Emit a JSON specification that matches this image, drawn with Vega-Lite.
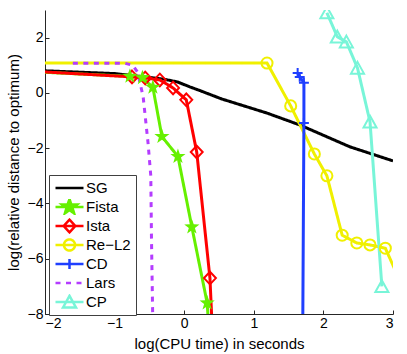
{
  "$schema": "https://vega.github.io/schema/vega-lite/v6.json",
  "autosize": "none",
  "width": 348,
  "height": 304,
  "padding": {"left": 45, "top": 10, "right": 14, "bottom": 40},
  "background": "white",
  "config": {
    "view": {"stroke": null},
    "axis": {
      "grid": false,
      "domainColor": "#262626",
      "tickColor": "#262626",
      "tickSize": -4,
      "labelFont": "Liberation Sans",
      "labelFontSize": 14,
      "labelColor": "black",
      "titleFont": "Liberation Sans",
      "titleFontSize": 15,
      "titleFontWeight": "normal",
      "titleColor": "black"
    }
  },
  "data": {
    "values": [
      {"s": "SG", "i": 0, "x": -2, "y": 0.8},
      {"s": "SG", "i": 1, "x": -1, "y": 0.7},
      {"s": "SG", "i": 2, "x": -0.5, "y": 0.56},
      {"s": "SG", "i": 3, "x": -0.3, "y": 0.5},
      {"s": "SG", "i": 4, "x": -0.1, "y": 0.4},
      {"s": "SG", "i": 5, "x": 0.08, "y": 0.22},
      {"s": "SG", "i": 6, "x": 0.23, "y": 0.08},
      {"s": "SG", "i": 7, "x": 0.54, "y": -0.22},
      {"s": "SG", "i": 8, "x": 1.19, "y": -0.73},
      {"s": "SG", "i": 9, "x": 1.66, "y": -1.16},
      {"s": "SG", "i": 10, "x": 2.38, "y": -1.95},
      {"s": "SG", "i": 11, "x": 3.0, "y": -2.46},
      {"s": "Fista", "i": 0, "x": -2.3, "y": 0.78},
      {"s": "Fista", "i": 1, "x": -0.78, "y": 0.6},
      {"s": "Fista", "i": 2, "x": -0.6, "y": 0.55},
      {"s": "Fista", "i": 3, "x": -0.45, "y": 0.2},
      {"s": "Fista", "i": 4, "x": -0.32, "y": -1.58},
      {"s": "Fista", "i": 5, "x": -0.09, "y": -2.3},
      {"s": "Fista", "i": 6, "x": 0.11, "y": -4.85},
      {"s": "Fista", "i": 7, "x": 0.33, "y": -7.6},
      {"s": "Fista", "i": 8, "x": 0.37, "y": -9.2},
      {"s": "Ista", "i": 0, "x": -2.3, "y": 0.8},
      {"s": "Ista", "i": 1, "x": -0.75, "y": 0.58},
      {"s": "Ista", "i": 2, "x": -0.56, "y": 0.54},
      {"s": "Ista", "i": 3, "x": -0.35, "y": 0.47},
      {"s": "Ista", "i": 4, "x": -0.16, "y": 0.18},
      {"s": "Ista", "i": 5, "x": 0.03, "y": -0.25},
      {"s": "Ista", "i": 6, "x": 0.18, "y": -2.14},
      {"s": "Ista", "i": 7, "x": 0.37, "y": -6.7},
      {"s": "Ista", "i": 8, "x": 0.42, "y": -9.5},
      {"s": "Re−L2", "i": 0, "x": -2.5, "y": 1.08},
      {"s": "Re−L2", "i": 1, "x": 1.19, "y": 1.08},
      {"s": "Re−L2", "i": 2, "x": 1.53, "y": -0.47},
      {"s": "Re−L2", "i": 3, "x": 1.87, "y": -2.21},
      {"s": "Re−L2", "i": 4, "x": 2.05, "y": -3.0},
      {"s": "Re−L2", "i": 5, "x": 2.27, "y": -5.15},
      {"s": "Re−L2", "i": 6, "x": 2.48, "y": -5.43},
      {"s": "Re−L2", "i": 7, "x": 2.67, "y": -5.5},
      {"s": "Re−L2", "i": 8, "x": 2.89, "y": -5.62},
      {"s": "Re−L2", "i": 9, "x": 3.1, "y": -6.8},
      {"s": "CD", "i": 0, "x": 1.63, "y": 0.72},
      {"s": "CD", "i": 1, "x": 1.66, "y": 0.58},
      {"s": "CD", "i": 2, "x": 1.72, "y": 0.37},
      {"s": "CD", "i": 3, "x": 1.72, "y": -1.09},
      {"s": "CD", "i": 4, "x": 1.7, "y": -10},
      {"s": "Lars", "i": 0, "x": -1.6, "y": 1.07},
      {"s": "Lars", "i": 1, "x": -0.85, "y": 1.07},
      {"s": "Lars", "i": 2, "x": -0.74, "y": 1.0},
      {"s": "Lars", "i": 3, "x": -0.67, "y": 0.75},
      {"s": "Lars", "i": 4, "x": -0.59, "y": -0.13},
      {"s": "Lars", "i": 5, "x": -0.52, "y": -1.8},
      {"s": "Lars", "i": 6, "x": -0.48, "y": -3.0},
      {"s": "Lars", "i": 7, "x": -0.47, "y": -5.3},
      {"s": "Lars", "i": 8, "x": -0.45, "y": -8.5},
      {"s": "CP", "i": 0, "x": 2.05, "y": 2.9},
      {"s": "CP", "i": 1, "x": 2.2, "y": 2.03},
      {"s": "CP", "i": 2, "x": 2.33, "y": 1.85},
      {"s": "CP", "i": 3, "x": 2.49, "y": 0.9},
      {"s": "CP", "i": 4, "x": 2.67, "y": -1.05},
      {"s": "CP", "i": 5, "x": 2.84, "y": -7.0}
    ]
  },
  "encoding": {
    "x": {
      "field": "x", "type": "quantitative",
      "scale": {"domain": [-2, 3], "nice": false, "zero": false},
      "axis": {"values": [-2, -1, 0, 1, 2, 3], "format": "d", "title": "log(CPU time) in seconds", "labelPadding": 6, "titlePadding": 6}
    },
    "y": {
      "field": "y", "type": "quantitative",
      "scale": {"domain": [-8, 3], "nice": false, "zero": false},
      "axis": {"values": [-8, -6, -4, -2, 0, 2], "format": "d", "title": "log(relative distance to optimum)", "labelPadding": 6, "titlePadding": 6}
    },
    "color": {
      "field": "s", "type": "nominal",
      "scale": {
        "domain": ["SG", "Fista", "Ista", "Re−L2", "CD", "Lars", "CP"],
        "range": ["#000000", "#66f000", "#ff0000", "#f0f000", "#1f3fff", "#b43cff", "#78f5d8"]
      }
    }
  },
  "layer": [
    {
      "mark": {"type": "line", "strokeWidth": 3, "clip": true},
      "encoding": {
        "order": {"field": "i", "type": "quantitative"},
        "strokeDash": {
          "field": "s", "type": "nominal", "legend": null,
          "scale": {
            "domain": ["SG", "Fista", "Ista", "Re−L2", "CD", "Lars", "CP"],
            "range": [[1, 0], [1, 0], [1, 0], [1, 0], [1, 0], [5, 5.5], [1, 0]]
          }
        },
        "color": {
          "field": "s", "type": "nominal",
          "legend": {
            "title": null,
            "orient": "none",
            "legendX": 4,
            "legendY": 165,
            "padding": 5,
            "strokeColor": "#404040",
            "fillColor": "white",
            "symbolSize": 196,
            "symbolStrokeWidth": 2.5,
            "symbolFillColor": "transparent",
            "clipHeight": 16,
            "labelFont": "Liberation Sans",
            "labelFontSize": 15,
            "labelColor": "black",
            "labelOffset": 15,
            "rowPadding": 3,
            "encode": {
              "symbols": {
                "update": {
                  "shape": {"signal": "datum.value === 'Fista' ? 'M-1,0L3,0M1,-1.14L1.268,-0.37L2.084,-0.352L1.433,0.141L1.67,0.922L1,0.456L0.33,0.922L0.567,0.141L-0.084,-0.352L0.732,-0.37Z' : datum.value === 'Ista' ? 'M-1,0L3,0M1,-0.9L1.85,0L1,0.9L0.15,0Z' : datum.value === 'Re−L2' ? 'M-1,0L3,0M1.79,0A0.79,0.79 0 1,1 0.21,0A0.79,0.79 0 1,1 1.79,0' : datum.value === 'CD' ? 'M-1,0L3,0M1,-0.71L1,0.71' : datum.value === 'CP' ? 'M-1,0L3,0M1,-0.88L1.93,0.8L0.07,0.8Z' : 'M-1,0L3,0'"},
                  "fill": {"signal": "datum.value === 'Fista' ? '#66f000' : 'transparent'"},
                  "fillOpacity": {"signal": "datum.value === 'Fista' ? 1 : 0"},
                  "strokeDash": {"signal": "datum.value === 'Lars' ? [6, 4] : [1, 0]"}
                }
              }
            }
          }
        }
      }
    },
    {
      "transform": [{"filter": {"field": "s", "oneOf": ["Ista", "Re−L2", "CD", "CP"]}}],
      "mark": {"type": "point", "filled": false, "strokeWidth": 2, "size": 196, "opacity": 1, "clip": true},
      "encoding": {
        "color": {"field": "s", "type": "nominal", "legend": null},
        "shape": {
          "field": "s", "type": "nominal", "legend": null,
          "scale": {
            "domain": ["Fista", "Ista", "Re−L2", "CD", "CP"],
            "range": [
              "M0,-1.14L0.268,-0.37L1.084,-0.352L0.433,0.141L0.67,0.922L0,0.456L-0.67,0.922L-0.433,0.141L-1.084,-0.352L-0.268,-0.37Z",
              "M0,-0.9L0.85,0L0,0.9L-0.85,0Z",
              "M0.79,0A0.79,0.79 0 1,1 -0.79,0A0.79,0.79 0 1,1 0.79,0",
              "M0,-0.71L0,0.71M-0.71,0L0.71,0",
              "M0,-0.88L0.93,0.8L-0.93,0.8Z"
            ]
          }
        }
      }
    },
    {
      "transform": [{"filter": {"field": "s", "equal": "Fista"}}],
      "mark": {"type": "point", "filled": true, "strokeWidth": 1, "size": 196, "opacity": 1, "clip": true},
      "encoding": {
        "color": {"field": "s", "type": "nominal", "legend": null},
        "shape": {"field": "s", "type": "nominal", "legend": null}
      }
    }
  ]
}
